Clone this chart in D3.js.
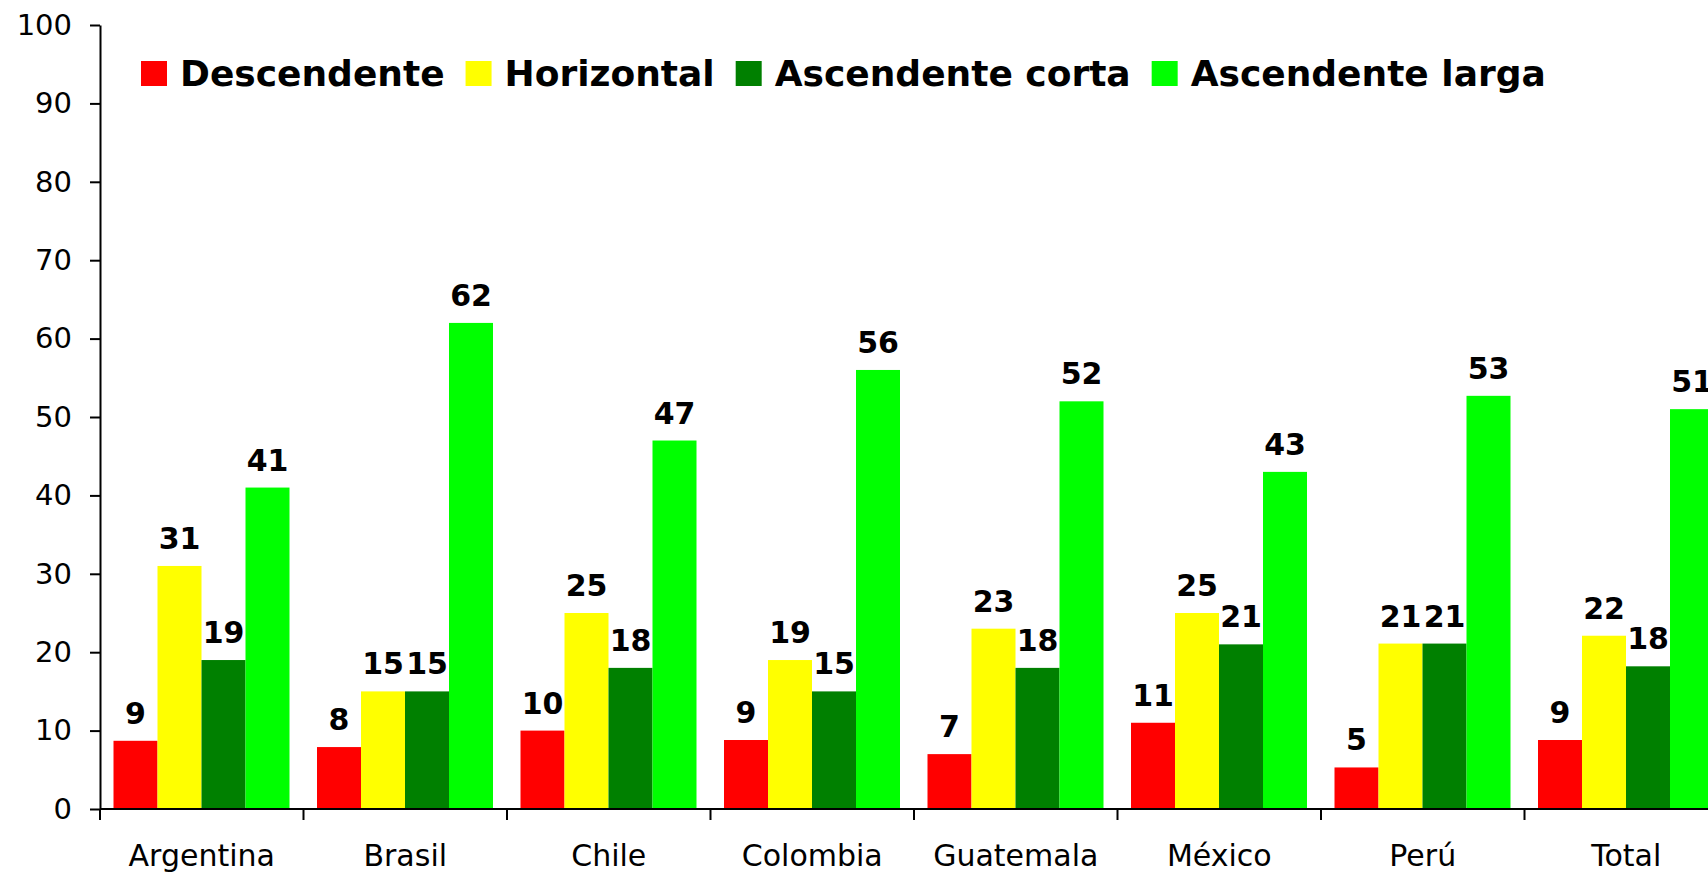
<!DOCTYPE html>
<html>
<head>
<meta charset="utf-8">
<script src="https://cdn.jsdelivr.net/npm/d3@7"></script>
<style>
    body { margin: 0; background: #fff; }
    svg { display: block; }
    .axis path, .axis line { stroke: #000; stroke-width: 2px; }
    .axis text { font-family: "DejaVu Sans", Verdana, sans-serif; fill: #000; }
</style>
</head>
<body>
<svg></svg>
<script>
var categories = ["Argentina", "Brasil", "Chile", "Colombia", "Guatemala", "México", "Perú", "Total"];
var seriesNames = ["Descendente", "Horizontal", "Ascendente corta", "Ascendente larga"];
var colors = ["#ff0000", "#ffff00", "#008000", "#00ff00"];

// one array per series, in category order
var descendente     = [8.7, 7.9, 10, 8.8, 7, 11, 5.3, 8.8];
var horizontal      = [31, 15, 25, 19, 23, 25, 21.1, 22.1];
var ascCorta        = [19, 15, 18, 15, 18, 21, 21.1, 18.2];
var ascLarga        = [41, 62, 47, 56, 52, 43, 52.7, 51];
var yTicks = [0, 10, 20, 30, 40, 50, 60, 70, 80, 90, 100];

var seriesValues = [descendente, horizontal, ascCorta, ascLarga];

var width = 1708, height = 877;
var margin = {top: 25, left: 100, bottom: 68};

var svg = d3.select("svg")
    .attr("width", width)
    .attr("height", height);

var xScale = d3.scaleBand()
    .domain(categories)
    .range([margin.left, margin.left + 8 * 203.5]); // last group runs off the edge

var xInner = d3.scaleBand()
    .domain(d3.range(seriesNames.length))
    .range([13.5, 13.5 + 176]);

var yScale = d3.scaleLinear()
    .domain([0, 100])
    .range([height - margin.bottom, margin.top]);

// y axis
svg.append("g")
    .attr("class", "y axis")
    .attr("transform", "translate(" + margin.left + ",0)")
    .call(d3.axisLeft(yScale).tickValues(yTicks).tickSize(10).tickSizeOuter(0).tickPadding(18))
    .selectAll("text")
    .style("font-size", "29px");

// bars
var groups = svg.selectAll(".group")
    .data(categories)
    .enter().append("g")
    .attr("class", "group")
    .attr("transform", function(d) { return "translate(" + xScale(d) + ",0)"; });

var cells = groups.selectAll(".bar")
    .data(function(d, i) {
        return seriesValues.map(function(s, k) { return {k: k, v: s[i]}; });
    })
    .enter();

cells.append("rect")
    .attr("class", "bar")
    .attr("x", function(d) { return xInner(d.k); })
    .attr("width", xInner.bandwidth())
    .attr("y", function(d) { return yScale(d.v); })
    .attr("height", function(d) { return yScale(0) - yScale(d.v); })
    .style("fill", function(d) { return colors[d.k]; });

cells.append("text")
    .attr("x", function(d) { return xInner(d.k) + xInner.bandwidth() / 2; })
    .attr("y", function(d) { return yScale(d.v) - 17; })
    .attr("text-anchor", "middle")
    .style("font-family", "'DejaVu Sans', Verdana, sans-serif")
    .style("font-weight", "bold")
    .style("font-size", "30px")
    .text(function(d) { return d3.format(".0f")(d.v); });

// x axis (labels centred, ticks on group boundaries)
var xAxis = svg.append("g")
    .attr("class", "x axis")
    .attr("transform", "translate(0," + yScale(0) + ")")
    .call(d3.axisBottom(xScale).tickSize(0).tickPadding(36));
xAxis.selectAll("text").style("font-size", "30px");
xAxis.select(".domain").attr("d", "M" + margin.left + ",0H" + (margin.left + 8 * 203.5));

xAxis.selectAll(".boundary")
    .data(categories)
    .enter().append("line")
    .attr("class", "boundary")
    .attr("x1", function(d) { return xScale(d); })
    .attr("x2", function(d) { return xScale(d); })
    .attr("y1", 0)
    .attr("y2", 11);

// legend
var legend = svg.append("g").attr("class", "legend");
var lx = 141;
seriesNames.forEach(function(name, i) {
    legend.append("rect")
        .attr("x", lx)
        .attr("y", 61)
        .attr("width", 26)
        .attr("height", 25)
        .style("fill", colors[i]);
    var t = legend.append("text")
        .attr("x", lx + 39)
        .attr("y", 86)
        .style("font-family", "'DejaVu Sans', Verdana, sans-serif")
        .style("font-weight", "bold")
        .style("font-size", "36px")
        .text(name);
    lx = lx + 39 + t.node().getComputedTextLength() + 21;
});
</script>
</body>
</html>
